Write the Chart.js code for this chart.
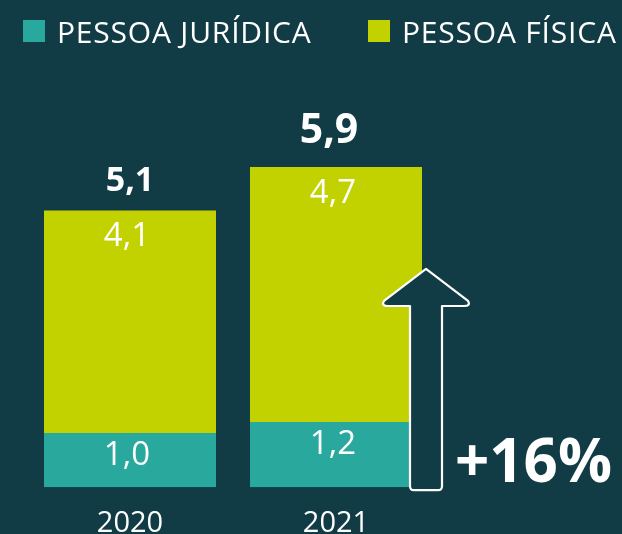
<!DOCTYPE html>
<html>
<head>
<meta charset="utf-8">
<script src="https://cdn.jsdelivr.net/npm/chart.js@4.4.0/dist/chart.umd.min.js"></script>
<style>
html,body{margin:0;padding:0;background:#123c45;}
#wrap{width:622px;height:534px;position:relative;}
</style>
</head>
<body>
<div id="wrap"><canvas id="c" width="622" height="534"></canvas></div>
<script>
const categories = ['2020', '2021'];
const seriesNames = ['PESSOA JURÍDICA', 'PESSOA FÍSICA'];
const juridica = [1.0, 1.2];
const fisica = [4.1, 4.7];
const totals = [5.1, 5.9];
const growthLabel = '+16%';

const BG = '#123c45';
const TEAL = '#29a89e';
const LIME = '#c2d100';
const FONT = '"Open Sans", "Noto Sans", sans-serif';

function fmt(v){ return v.toFixed(1).replace('.', ','); }

const overlay = {
  id: 'overlay',
  afterDatasetsDraw(chart) {
    const ctx = chart.ctx;
    const m0 = chart.getDatasetMeta(0).data;
    const m1 = chart.getDatasetMeta(1).data;
    ctx.save();
    ctx.fillStyle = '#ffffff';
    ctx.textAlign = 'center';
    ctx.textBaseline = 'alphabetic';
    // segment labels
    ctx.font = '400 33px ' + FONT;
    m0.forEach((el, i) => { ctx.fillText(fmt(juridica[i]), el.x - 3, el.y + 32); });
    m1.forEach((el, i) => { ctx.fillText(fmt(fisica[i]), el.x - 3, el.y + 36); });
    // totals
    m1.forEach((el, i) => {
      const last = i === m1.length - 1;
      ctx.font = (last ? '700 41px ' : '700 34px ') + FONT;
      ctx.fillText(fmt(totals[i]), el.x - (last ? 7 : 0), el.y - (last ? 24 : 19));
    });

    // arrow
    const el = m0[m0.length - 1];
    const yS = chart.scales.y;
    const cx = el.x + el.width / 2 + 4;
    const tipY = yS.getPixelForValue(totals[totals.length - 1]) + 102;
    const botY = yS.getPixelForValue(0) + 3;
    const sw = 16, hw = 42, headY = tipY + 37;
    const r = 4;
    ctx.beginPath();
    ctx.moveTo(cx, tipY);
    ctx.lineTo(cx + hw, headY - 5);
    ctx.quadraticCurveTo(cx + hw + 3, headY, cx + hw - 4, headY);
    ctx.lineTo(cx + sw, headY);
    ctx.lineTo(cx + sw, botY - r);
    ctx.quadraticCurveTo(cx + sw, botY, cx + sw - r, botY);
    ctx.lineTo(cx - sw + r, botY);
    ctx.quadraticCurveTo(cx - sw, botY, cx - sw, botY - r);
    ctx.lineTo(cx - sw, headY);
    ctx.lineTo(cx - hw + 4, headY);
    ctx.quadraticCurveTo(cx - hw - 3, headY, cx - hw, headY - 5);
    ctx.closePath();
    ctx.fillStyle = BG;
    ctx.fill();
    ctx.lineWidth = 2.2;
    ctx.lineJoin = 'round';
    ctx.strokeStyle = '#ffffff';
    ctx.stroke();

    // growth text
    ctx.fillStyle = '#ffffff';
    ctx.textAlign = 'left';
    ctx.font = '700 60px ' + FONT;
    ctx.fillText(growthLabel, cx + sw + 13, botY - 8);

    // legend
    const items = [
      {x: 23, color: TEAL, text: chart.data.datasets[0].label},
      {x: 368, color: LIME, text: chart.data.datasets[1].label}
    ];
    ctx.font = '400 30px ' + FONT;
    try { ctx.letterSpacing = '0.8px'; } catch (e) {}
    items.forEach((it) => {
      ctx.fillStyle = it.color;
      ctx.fillRect(it.x, 20, 22, 22);
      ctx.fillStyle = '#ffffff';
      ctx.fillText(it.text, it.x + 34, 43);
    });
    ctx.restore();
  }
};

new Chart(document.getElementById('c'), {
  type: 'bar',
  data: {
    labels: categories,
    datasets: [
      {label: seriesNames[0], data: juridica, backgroundColor: TEAL, borderWidth: 0},
      {label: seriesNames[1], data: fisica, backgroundColor: LIME, borderWidth: 0}
    ]
  },
  options: {
    responsive: false,
    animation: false,
    devicePixelRatio: 1,
    layout: {padding: {top: 53, left: 27, right: 183, bottom: -26}},
    datasets: {bar: {categoryPercentage: 1, barPercentage: 0.835}},
    plugins: {legend: {display: false}, tooltip: {enabled: false}},
    scales: {
      x: {
        stacked: true,
        grid: {display: false, drawTicks: false},
        border: {display: false},
        ticks: {color: '#ffffff', font: {family: FONT, size: 29}, padding: 19}
      },
      y: {
        stacked: true,
        display: false,
        min: 0,
        max: 8
      }
    }
  },
  plugins: [overlay]
});
</script>
</body>
</html>
